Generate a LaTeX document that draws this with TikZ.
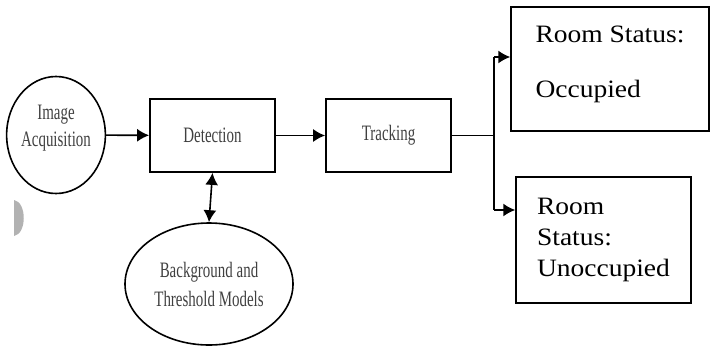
\documentclass[tikz,border=0pt]{standalone}
\usepackage{fontspec}
\usetikzlibrary{shapes.geometric,arrows.meta}
\newfontfamily\narrowserif[FakeStretch=0.68]{Liberation Serif}
\newfontfamily\wideserif[FakeStretch=1.1]{Liberation Serif}
\tikzset{
  oval/.style={ellipse,draw,line width=1.6pt,inner sep=0pt,align=center,
    text=black!75,font=\narrowserif\fontsize{22}{27}\selectfont},
  block/.style={rectangle,draw,line width=1.8pt,inner sep=0pt,
    text=black!75,font=\narrowserif\fontsize{22}{27}\selectfont},
  status/.style={rectangle,draw,line width=1.5pt,inner sep=0pt,align=left,
    font=\wideserif\fontsize{25}{31}\selectfont},
  arr/.style={line width=1.6pt,-{Latex[length=12pt,width=13pt]}},
  biarr/.style={line width=1.6pt,{Latex[length=12pt,width=13pt]}-{Latex[length=12pt,width=13pt]}}
}
\begin{document}
\begin{tikzpicture}[x=1pt,y=-1pt]
  \useasboundingbox (0,0) rectangle (715,349);
  \fill[black!30] (14,200) .. controls (27,202) and (27,234) .. (14,236) -- cycle;
  \node[oval,minimum width=84pt,minimum height=117pt] (acq) at (56,135) {Image\\Acquisition\\[-8pt]};
  \node[block,minimum width=125pt,minimum height=73pt] (det) at (212.5,135.5) {Detection};
  \node[block,minimum width=125pt,minimum height=73pt] (trk) at (388.5,135.5) {Tracking};
  \node[oval,minimum width=168pt,minimum height=122pt,font=\narrowserif\fontsize{22}{29}\selectfont] (bg) at (209,284) {Background and\\Threshold Models};
  \node[status,minimum width=198pt,minimum height=124pt,text depth=14pt] (occ) at (610,69) {Room Status:\\[24pt]Occupied};
  \node[status,minimum width=175pt,minimum height=126pt] (unocc) at (603.5,240) {Room\\Status:\\Unoccupied};
  \coordinate (split) at (494,135.5);
  \coordinate (up) at (494,57);
  \coordinate (down) at (494,210);
  \draw[arr] (acq) -- (det);
  \draw[arr] (det) -- (trk);
  \draw[biarr] (det.south) -- (bg.north);
  \draw[line width=1.4pt] (trk.east) -- (split);
  \draw[line width=1.4pt] (up) -- (down);
  \draw[arr] (up) -- (up -| occ.west);
  \draw[arr] (down) -- (down -| unocc.west);
\end{tikzpicture}
\end{document}
